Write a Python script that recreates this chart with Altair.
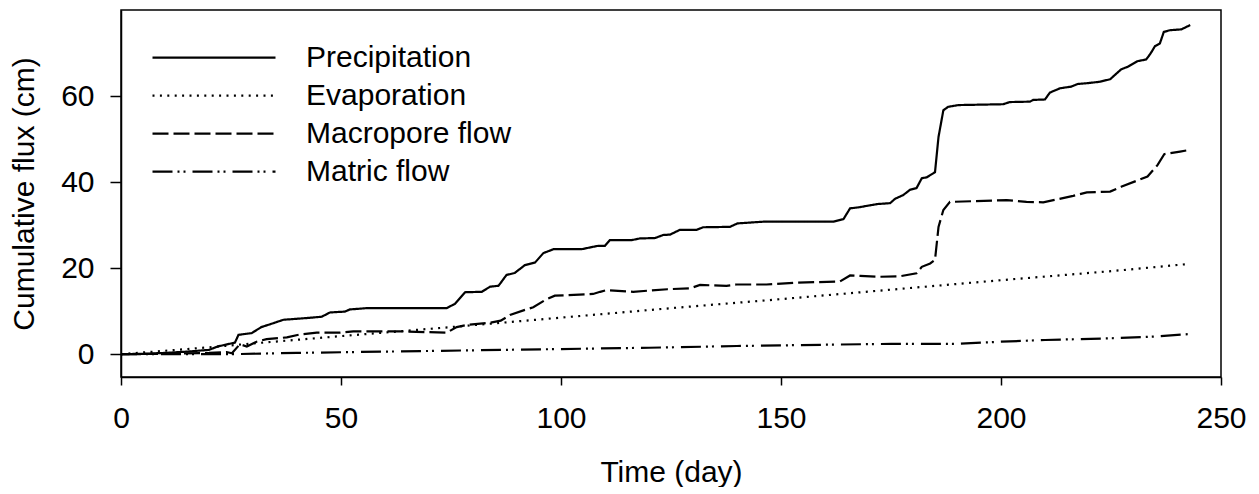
import altair as alt
import pandas as pd

series_names = ["Precipitation", "Evaporation", "Macropore flow", "Matric flow"]

precip_day = [0, 5, 10, 15, 20, 22, 25.9, 26.7, 29.7, 31.9, 34.6, 36.9, 42.2, 45.6, 47.5, 50.9, 52, 55.8,
              74, 75.9, 78.2, 82, 83.9, 85.8, 87.6, 89.5, 91.8, 94.1, 96, 98.3, 104.7, 107, 108.5, 110,
              111.1, 116, 117.9, 121.4, 123.2, 124.8, 127, 130.8, 132.3, 138.4, 140.1, 146, 161.9, 164.2,
              165.7, 167.4, 169.7, 171.9, 174.8, 175.9, 177.8, 179.3, 180.8, 182, 183.1, 185, 185.8,
              186.9, 188, 190.3, 200.5, 202, 206.6, 207.3, 210, 211.1, 213.4, 216, 217.4, 219.7, 222.3,
              224.8, 227.3, 228.8, 231, 233, 234, 235, 236.1, 237, 238.4, 241, 243]
precip_val = [0, 0.1, 0.3, 0.6, 1.0, 1.8, 2.7, 4.5, 4.9, 6.3, 7.2, 8.0, 8.4, 8.7, 9.7, 9.9, 10.4, 10.7,
              10.7, 11.7, 14.4, 14.5, 15.7, 15.9, 18.4, 18.9, 20.7, 21.3, 23.5, 24.4, 24.4, 24.9, 25.2, 25.2,
              26.5, 26.5, 26.9, 27.0, 27.7, 27.8, 28.9, 28.9, 29.5, 29.6, 30.4, 30.8, 30.8, 31.4,
              33.9, 34.1, 34.5, 34.9, 35.1, 36.1, 37.0, 38.2, 38.6, 40.9, 41.1, 42.3, 50.5,
              56.7, 57.5, 57.9, 58.1, 58.6, 58.7, 59.1, 59.2, 60.8, 61.8, 62.2, 62.8, 63.0, 63.3,
              63.9, 66.2, 66.8, 68.1, 68.5, 69.9, 71.6, 72.2, 74.9, 75.3, 75.5, 76.5]

evap_day = [0, 10, 20, 30, 50, 75, 100, 125, 150, 175, 200, 225, 243]
evap_val = [0, 0.8, 1.6, 2.5, 4.2, 6.3, 8.5, 10.7, 12.8, 15.0, 17.2, 19.3, 21.0]

macro_day = [0, 10, 20, 24, 25.2, 27, 28.6, 30.8, 33.1, 37.7, 40.7, 44.5, 49.8, 52.8, 63.4, 74, 76.3,
             78.6, 83.9, 86.3, 88.4, 91.8, 93.7, 96.4, 98.6, 107.3, 108.9, 110.4, 116.4, 124.2, 129.3,
             131.6, 137.6, 139.9, 146.7, 152.8, 163.4, 165.7, 168, 172.5, 177, 180.8, 182, 183.9, 185,
             185.8, 186.9, 188.4, 201.3, 205.8, 209.6, 211.9, 216.4, 219.5, 224.8, 227.3, 233.3, 235.6,
             237.1, 240.7, 243]
macro_val = [0, 0.1, 0.3, 0.5, 0.2, 2.3, 1.8, 2.9, 3.5, 3.9, 4.6, 5.0, 5.0, 5.3, 5.3, 5.0, 6.3,
             6.8, 7.3, 7.8, 9.1, 10.3, 10.9, 12.6, 13.6, 14.0, 14.5, 14.9, 14.5, 15.1, 15.3,
             16.1, 15.9, 16.2, 16.2, 16.6, 16.9, 18.3, 18.2, 18.0, 18.1, 18.8, 20.3, 21.1, 21.9,
             29.6, 33.5, 35.4, 35.8, 35.4, 35.3, 35.8, 36.8, 37.6, 37.8, 38.9, 41.3, 44.0,
             46.5, 47.1, 47.5]

matric_day = [0, 25, 40, 60, 80, 100, 120, 140, 160, 175, 190, 200, 210, 225, 235, 243]
matric_val = [0, 0.0, 0.3, 0.6, 0.9, 1.2, 1.5, 1.9, 2.2, 2.4, 2.4, 2.9, 3.3, 3.7, 4.1, 4.7]

x_ticks = [0, 50, 100, 150, 200, 250]
y_ticks = [0, 20, 40, 60]

rows = []
for name, days, vals in zip(series_names,
                            [precip_day, evap_day, macro_day, matric_day],
                            [precip_val, evap_val, macro_val, matric_val]):
    for d, v in zip(days, vals):
        rows.append({"series": name, "day": d, "flux": v})
df = pd.DataFrame(rows)

FONT = "Liberation Sans"

chart = alt.Chart(df).mark_line(strokeWidth=2.2, color="black").encode(
    x=alt.X("day:Q",
            scale=alt.Scale(domain=[0, 250], nice=False, zero=False),
            axis=alt.Axis(values=x_ticks, title="Time (day)", grid=False, tickSize=8,
                          labelPadding=42, labelBaseline="alphabetic", labelFlush=False,
                          labelOverlap=False,
                          titleX=550, titleY=104, titleBaseline="alphabetic", titleAnchor="middle")),
    y=alt.Y("flux:Q",
            scale=alt.Scale(domain=[-5.3, 80], nice=False, zero=False),
            axis=alt.Axis(values=y_ticks, title="Cumulative flux (cm)", grid=False, tickSize=11,
                          labelPadding=16, labelFlush=False, labelOverlap=False,
                          titleX=-88, titleY=183.5, titleAngle=270,
                          titleBaseline="alphabetic", titleAlign="center")),
    strokeDash=alt.StrokeDash("series:N",
                              scale=alt.Scale(domain=series_names,
                                              range=[[1, 0], [2, 5.4], [16, 5], [20, 5, 2, 4, 2, 7]]),
                              legend=alt.Legend(title=None, orient="none", legendX=30, legendY=29,
                                                symbolType="stroke", symbolSize=15129,
                                                symbolStrokeWidth=2.2, symbolStrokeColor="black",
                                                clipHeight=37.3, rowPadding=0, padding=0,
                                                symbolOffset=0, labelOffset=29,
                                                labelFontSize=30, labelFont=FONT, labelColor="black",
                                                labelLimit=400)),
    order=alt.Order("day:Q"),
).properties(
    width=1100,
    height=367,
    autosize=alt.AutoSizeParams(type="none"),
    padding={"left": 113, "top": 2, "right": 30, "bottom": 110},
).configure_view(
    stroke="black", strokeWidth=1.5
).configure_axis(
    labelFont=FONT, labelFontSize=30, labelColor="black",
    titleFont=FONT, titleFontSize=30, titleColor="black", titleFontWeight="normal",
    domainColor="black", domainWidth=1.5, tickColor="black", tickWidth=1.5,
)

chart.save("out.html", embed_options={"renderer": "svg", "actions": False})
